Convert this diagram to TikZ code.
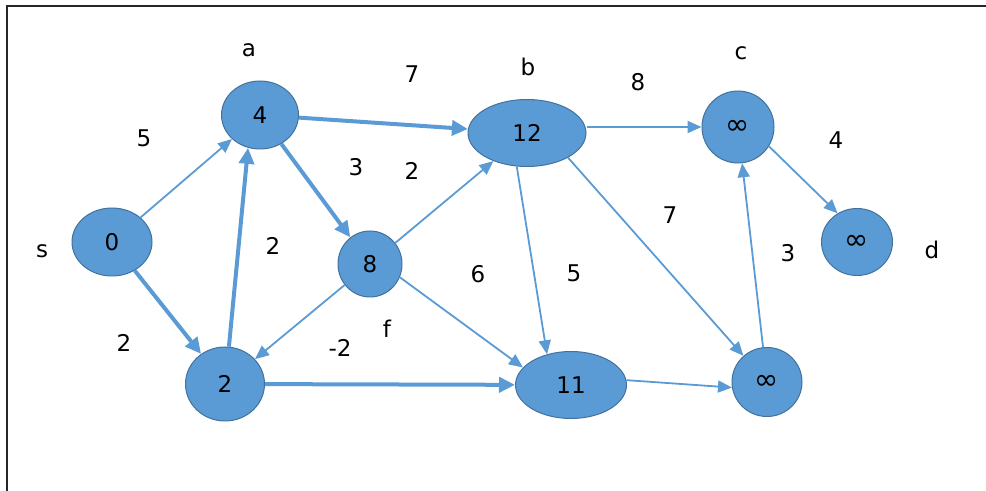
\documentclass[tikz,border=0pt]{standalone}
\usepackage{fontspec}
\setmainfont{DejaVu Sans}
\usetikzlibrary{shapes.geometric,arrows.meta}
\definecolor{nodeblue}{HTML}{5B9BD5}
\definecolor{nodeline}{HTML}{41719C}
\definecolor{edgeblue}{HTML}{5B9BD5}
\newcommand{\infsym}{{\fontsize{14.5}{15}\selectfont ∞}}
\tikzset{
  vert/.style={ellipse,fill=nodeblue,draw=nodeline,line width=0.5pt,inner sep=0pt},
  thinedge/.style={-{Triangle[length=7pt,width=6pt]},draw=edgeblue,line width=0.9pt},
  thickedge/.style={-{Triangle[length=8pt,width=7.5pt]},draw=edgeblue,line width=2pt}
}
\begin{document}
\begin{tikzpicture}[x=0.5pt,y=-0.5pt,font=\fontsize{11.5}{14}\selectfont]
\useasboundingbox (0,0) rectangle (986,491);
\draw[line width=0.85pt,color=black!85] (7,491) -- (7,6) -- (986,6);
\node[vert,minimum width=40pt,minimum height=34pt] (s) at (112,242) {0};
\node[vert,minimum width=38.5pt,minimum height=34pt] (a) at (260,115) {4};
\node[vert,minimum width=59pt,minimum height=33.5pt] (b) at (527,133) {12};
\node[vert,minimum width=36pt,minimum height=36pt] (c) at (738,127) {\infsym};
\node[vert,minimum width=35.5pt,minimum height=33.5pt] (d) at (857,242) {\infsym};
\node[vert,minimum width=32pt,minimum height=33pt] (f) at (370,264) {8};
\node[vert,minimum width=39.5pt,minimum height=37pt] (e) at (225,384) {2};
\node[vert,minimum width=55.5pt,minimum height=33.5pt] (g) at (571,385) {11};
\node[vert,minimum width=35pt,minimum height=34.5pt] (h) at (767,382) {\infsym};
\node (ls) at (42,251) {s};
\node (la) at (249,50) {a};
\node (lb) at (528,67) {b};
\node (lc) at (741,53) {c};
\node (ld) at (932,250) {d};
\node (lf) at (387,329) {f};
\node (wsa) at (144,138) {5};
\node (wse) at (124,343) {2};
\node (wea) at (273,246) {2};
\node (wab) at (412,74) {7};
\node (waf) at (356,167) {3};
\node (wfb) at (412,171) {2};
\node (wfe) at (340,348) {-2};
\node (wfg) at (478,274) {6};
\node (wbg) at (574,273) {5};
\node (wbc) at (638,82) {8};
\node (wbh) at (670,215) {7};
\node (wcd) at (836,140) {4};
\node (whc) at (788,253) {3};
\draw[thinedge] (s) -- (a);
\draw[thickedge] (s) -- (e);
\draw[thickedge] (e.84) -- (a.250);
\draw[thickedge] (a) -- (b);
\draw[thickedge] (a) -- (f);
\draw[thinedge] (f) -- (b);
\draw[thinedge] (f) -- (e);
\draw[thinedge] (f.-24) -- (g.160);
\draw[thickedge] (e) -- (g);
\draw[thinedge] (b.east |- c.west) -- (c.west);
\draw[thinedge] (b.253) -- (g.128);
\draw[thinedge] (b.-31) -- (h.132);
\draw[thinedge] (g.5) -- (h.189);
\draw[thinedge] (h) -- (c);
\draw[thinedge] (c.-32) -- (d.124);
\end{tikzpicture}
\end{document}
